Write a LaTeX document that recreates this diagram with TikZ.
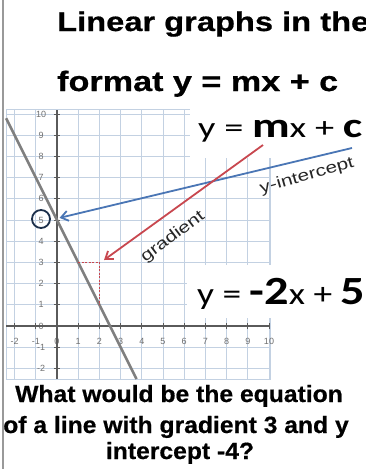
\documentclass[tikz,border=0pt]{standalone}
\usepackage{fontspec}
\setmainfont{Liberation Sans}
\newfontfamily\calfont{Carlito}
\newfontfamily\heavyfont[FakeBold=0.6]{Liberation Sans Bold}
\usetikzlibrary{arrows.meta}
\definecolor{gridc}{HTML}{C3D1E2}
\definecolor{axisc}{HTML}{5A5A5A}
\definecolor{linec}{HTML}{7F7F7F}
\definecolor{bluec}{HTML}{4A76B5}
\definecolor{redc}{HTML}{C8474F}
\definecolor{navyc}{HTML}{1C2F4A}
\definecolor{labc}{HTML}{707070}
\begin{document}
\begin{tikzpicture}[x=1pt,y=-1pt,
  gridline/.style={gridc, line width=0.9pt},
  axisline/.style={axisc, line width=1.8pt},
  tickmark/.style={axisc, line width=1pt},
  ticklab/.style={labc, font=\fontsize{9}{9}\selectfont, inner sep=0},
  title/.style={anchor=base west, inner sep=0, font=\heavyfont},
  question/.style={anchor=base, inner sep=0, font=\fontsize{23.5}{24}\selectfont\heavyfont},
  eqn/.style={anchor=base west, inner sep=0, font=\calfont},
  note/.style={inner sep=0, font=\fontsize{16}{17}\selectfont, text=black!85},
  pointer/.style={line width=1.8pt, -{Straight Barb[length=7pt,width=10pt]}},
]
\clip (0,0) rectangle (366,469);
\fill[white] (0,0) rectangle (366,469);
\draw[gray!80, line width=1.5pt] (3,0) -- (3,469);

% grid
\begin{scope}[shift={(57,326)}, x=21.2pt, y=21.2pt]
  \foreach \i in {-2,...,10} \draw[gridline] (\i,-2.5) -- (\i,10.2);
  \foreach \j in {-2,...,10} \draw[gridline] (-2.4,\j) -- (10.05,\j);
  \draw[gridline] (-2.4,-2.5) rectangle (10.05,10.2);
\end{scope}

% white boxes behind equations
\fill[white] (190,104) rectangle (366,158);
\fill[white] (187,265) rectangle (366,318);

\begin{scope}[shift={(57,326)}, x=21.2pt, y=21.2pt]
  % tick labels
  \foreach \j in {-2,...,10} \node[ticklab] (yl\j) at (-0.75,\j) {\j};
  \foreach \i in {-2,...,10} \node[ticklab] (xl\i) at (\i,-0.72) {\i};
  % axes
  \coordinate (xa0) at (-2.4,0);
  \coordinate (xa1) at (10.05,0);
  \coordinate (ya0) at (0,-2.5);
  \coordinate (ya1) at (0,10.2);
  \draw[axisline] (xa0) -- (xa1);
  \draw[axisline] (ya0) -- (ya1);
  \foreach \i in {-2,...,10} \draw[tickmark] (\i,-0.15) -- (\i,0.15);
  \foreach \j in {-2,...,10} \draw[tickmark] (-0.15,\j) -- (0.15,\j);
  % the line y = -2x + 5
  \coordinate (l0) at (-2.4,9.8);
  \coordinate (l1) at (3.75,-2.5);
  \draw[linec, line width=2.6pt] (l0) -- (l1);
  % slope triangle
  \coordinate (s0) at (1,3);
  \coordinate (s1) at (2,3);
  \coordinate (s2) at (2,1);
  \draw[redc, line width=0.8pt, dash pattern=on 2pt off 1.5pt] (s0) -- (s1) -- (s2);
  \coordinate (yint0) at (0.12,5.1);
\end{scope}

% circle round the 5
\node[draw=navyc, line width=1.8pt, circle, minimum size=18pt, inner sep=0] (c5) at (41,219) {};

% arrows
\coordinate (bs) at (352,148);
\coordinate (rs) at (263,145);
\coordinate (re) at (104,260);
\draw[pointer, bluec] (bs) -- (yint0);
\draw[pointer, redc] (rs) -- (re);

% titles
\node[title] (t1) at (57,31) {\resizebox{312pt}{\height}{\fontsize{27}{28}\selectfont Linear graphs in the}};
\node[title] (t2) at (57,91) {\resizebox{281pt}{\height}{\fontsize{28}{29}\selectfont format y = mx + c}};

% equations
\node[eqn] (e1) at (198,137) {\resizebox{164pt}{\height}{\fontsize{29}{30}\selectfont y = {\bfseries\fontsize{35}{35}\selectfont m}x + {\bfseries\fontsize{35}{35}\selectfont c}}};
\node[eqn] (e2) at (197,304) {\resizebox{168pt}{\height}{\fontsize{31}{31}\selectfont y = {\bfseries\fontsize{40}{40}\selectfont -2}x + {\bfseries\fontsize{40}{40}\selectfont 5}}};

% notes
\node[note, rotate=37] (grad) at (173,237) {\scalebox{1.3}[1]{gradient}};
\node[note, rotate=16] (yint) at (307,176) {\scalebox{1.3}[1]{y-intercept}};

% question
\node[question] (q1) at (179,402) {\scalebox{1.05}[1]{What would be the equation}};
\node[question] (q2) at (176,433) {\scalebox{1.05}[1]{of a line with gradient 3 and y}};
\node[question] (q3) at (180,459) {\scalebox{1.05}[1]{intercept -4?}};
\end{tikzpicture}
\end{document}
